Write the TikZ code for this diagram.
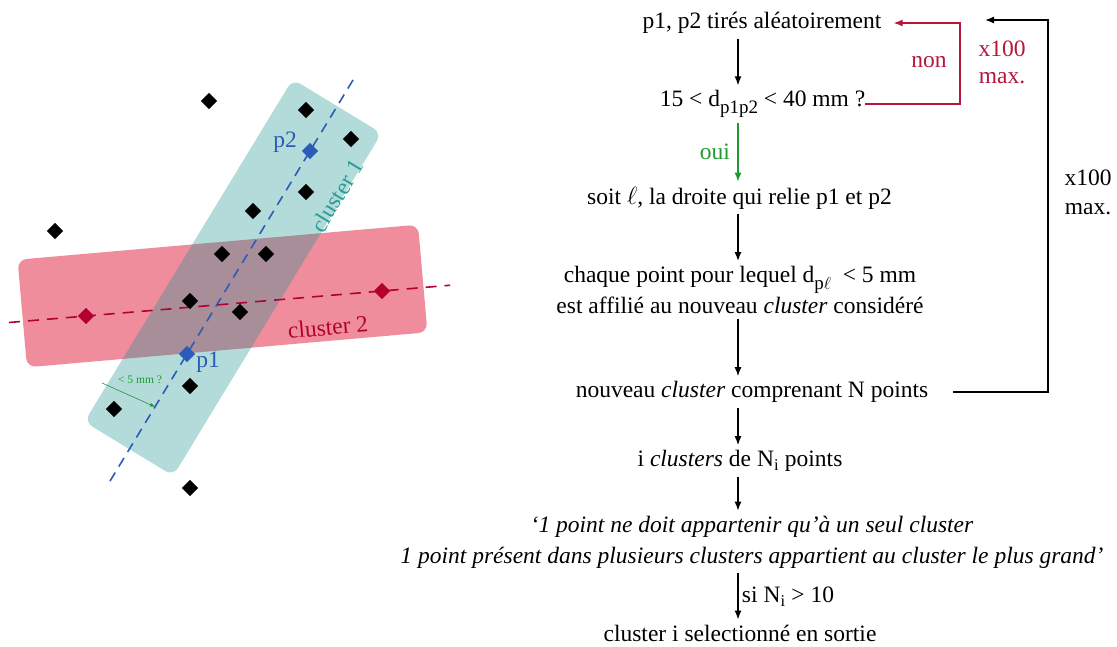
\documentclass[tikz,border=0pt]{standalone}
\usepackage{fontspec}
\setmainfont{Liberation Serif}
\usepackage{tikz}
\usetikzlibrary{shapes.geometric,arrows.meta,positioning,calc,backgrounds}
\definecolor{ClPink}{HTML}{F08D9D}
\definecolor{ClTeal}{HTML}{18918E}
\definecolor{ClTealDark}{HTML}{2A9D95}
\definecolor{ClRed}{HTML}{B3002E}
\definecolor{ClBlue}{HTML}{2A5CB8}
\definecolor{OkGreen}{HTML}{1E9A30}
\definecolor{NoRed}{HTML}{B4163E}
\newcommand{\flowfont}{\fontsize{23.5}{31}\selectfont}
\newcommand{\tinyfont}{\fontsize{11.5}{13}\selectfont}
\newcommand{\lowtxt}[1]{\raisebox{-0.28em}{\fontsize{19}{20}\selectfont #1}}
\tikzset{
  bar/.style={rectangle,rounded corners=9pt,inner sep=0pt},
  pt/.style={diamond,fill=black,minimum size=16.5pt,inner sep=0pt},
  fl/.style={align=center,inner xsep=0pt,inner ysep=5pt},
  arr/.style={-{Latex[length=9pt,width=7pt]},line width=1.3pt},
  garr/.style={-{Latex[length=5pt,width=4pt]},line width=0.6pt,draw=OkGreen},
  bdash/.style={draw=ClBlue,line width=1.6pt,dash pattern=on 10pt off 7pt},
  rdash/.style={draw=ClRed,line width=1.6pt,dash pattern=on 11pt off 8pt}
}

\begin{document}
\begin{tikzpicture}[x=1pt,y=-1pt,every node/.style={font=\flowfont}]
  \useasboundingbox (0,0) rectangle (1117,646);

  % points
  \foreach \px/\py [count=\i] in {209/101,306/110,351/139,306/192,253/211,55/231,222/254,
      266/254,190/301,240/312,190/386,114/409,190/488}
    \node[pt] (q\i) at (\px,\py) {};
  \node[pt,fill=ClBlue] (p1) at (187,354) {};
  \node[pt,fill=ClBlue] (p2) at (310,151) {};
  \node[pt,fill=ClRed] (r1) at (86,316) {};
  \node[pt,fill=ClRed] (r2) at (382,291) {};

  % clusters and lines
  \begin{scope}[on background layer]
    \node[bar,fill=ClPink,rotate=5,minimum width=402pt,minimum height=108pt] (cl2) at (222.5,296) {};
    \node[bar,fill=ClTeal,fill opacity=.33,rotate=58.7,minimum width=401pt,minimum height=104pt] (cl1) at (233,277.5) {};
    \draw[bdash] ($(p1)!-0.626!(p2)$) -- ($(p1)!1.35!(p2)$);
    \draw[rdash] ($(r1)!-0.26!(r2)$) -- ($(r1)!1.23!(r2)$);
  \end{scope}

  \node[text=ClBlue] (lp2) at (285,142) {p2};
  \node[text=ClBlue] (lp1) at (208,362) {p1};
  \node[text=ClTealDark,rotate=58.7] (lc1) at (337,196) {cluster 1};
  \node[text=ClRed,rotate=5] (lc2) at (328,327) {cluster 2};
  \node[text=OkGreen,font=\tinyfont] (lmm) at (140,380) {< 5 mm ?};
  \coordinate (gs) at (102,383);
  \draw[garr] (gs) -- ($(p1)!-0.26!(p2)$);

  % flow
  \coordinate (ax) at (738,0);
  \node[fl] (n1) at (762,23) {p1, p2 tirés aléatoirement};
  \node[fl] (n2) at (762.5,104) {15 < d\lowtxt{p1p2} < 40 mm ?};
  \node[fl] (n3) at (739.5,198) {soit $\ell$, la droite qui relie p1 et p2};
  \node[fl] (n4) at (740,290) {chaque point pour lequel d\lowtxt{p$\ell$}\ \ < 5 mm\\
    est affilié au nouveau \textit{cluster} considéré};
  \node[fl] (n5) at (752,392) {nouveau \textit{cluster} comprenant N points};
  \node[fl] (n6) at (740,461) {i \textit{clusters} de N\textsubscript{i} points};
  \node[fl,font=\flowfont\itshape] (n7) at (752,542) {‘1 point ne doit appartenir qu’à un seul cluster\\
    1 point présent dans plusieurs clusters appartient au cluster le plus grand’};
  \node[fl] (n8) at (740,633) {cluster i selectionné en sortie};

  \draw[arr] (n1.south -| ax) -- (n2.north -| ax);
  \draw[arr,OkGreen] (n2.south -| ax) -- node[left=4pt,text=OkGreen] (oui) {oui} (n3.north -| ax);
  \draw[arr] (n3.south -| ax) -- (n4.north -| ax);
  \draw[arr] (n4.south -| ax) -- (n5.north -| ax);
  \draw[arr] (n5.south -| ax) -- (n6.north -| ax);
  \draw[arr] (n6.south -| ax) -- (n7.north -| ax);
  \draw[arr] (n7.south -| ax) -- node[right] (si) {si N\textsubscript{i} > 10} (n8.north -| ax);

  % loops
  \coordinate (rl) at (960,0);
  \draw[arr,NoRed] (n2.east) -- (n2.east -| rl) |- ([xshift=12pt]n1.east);
  \node[text=NoRed] (non) at (929,62) {non};
  \node[text=NoRed,align=center,font=\fontsize{23.5}{27}\selectfont] (xr) at (1002,62) {x100\\max.};
  \coordinate (bl) at (1048,0);
  \coordinate (bt) at (985,20);
  \draw[arr] ([xshift=25pt]n5.east) -- (n5.east -| bl) |- (bt);
  \node[align=center,font=\fontsize{23.5}{29}\selectfont] (xb) at (1088,192) {x100\\max.};
\end{tikzpicture}
\end{document}
